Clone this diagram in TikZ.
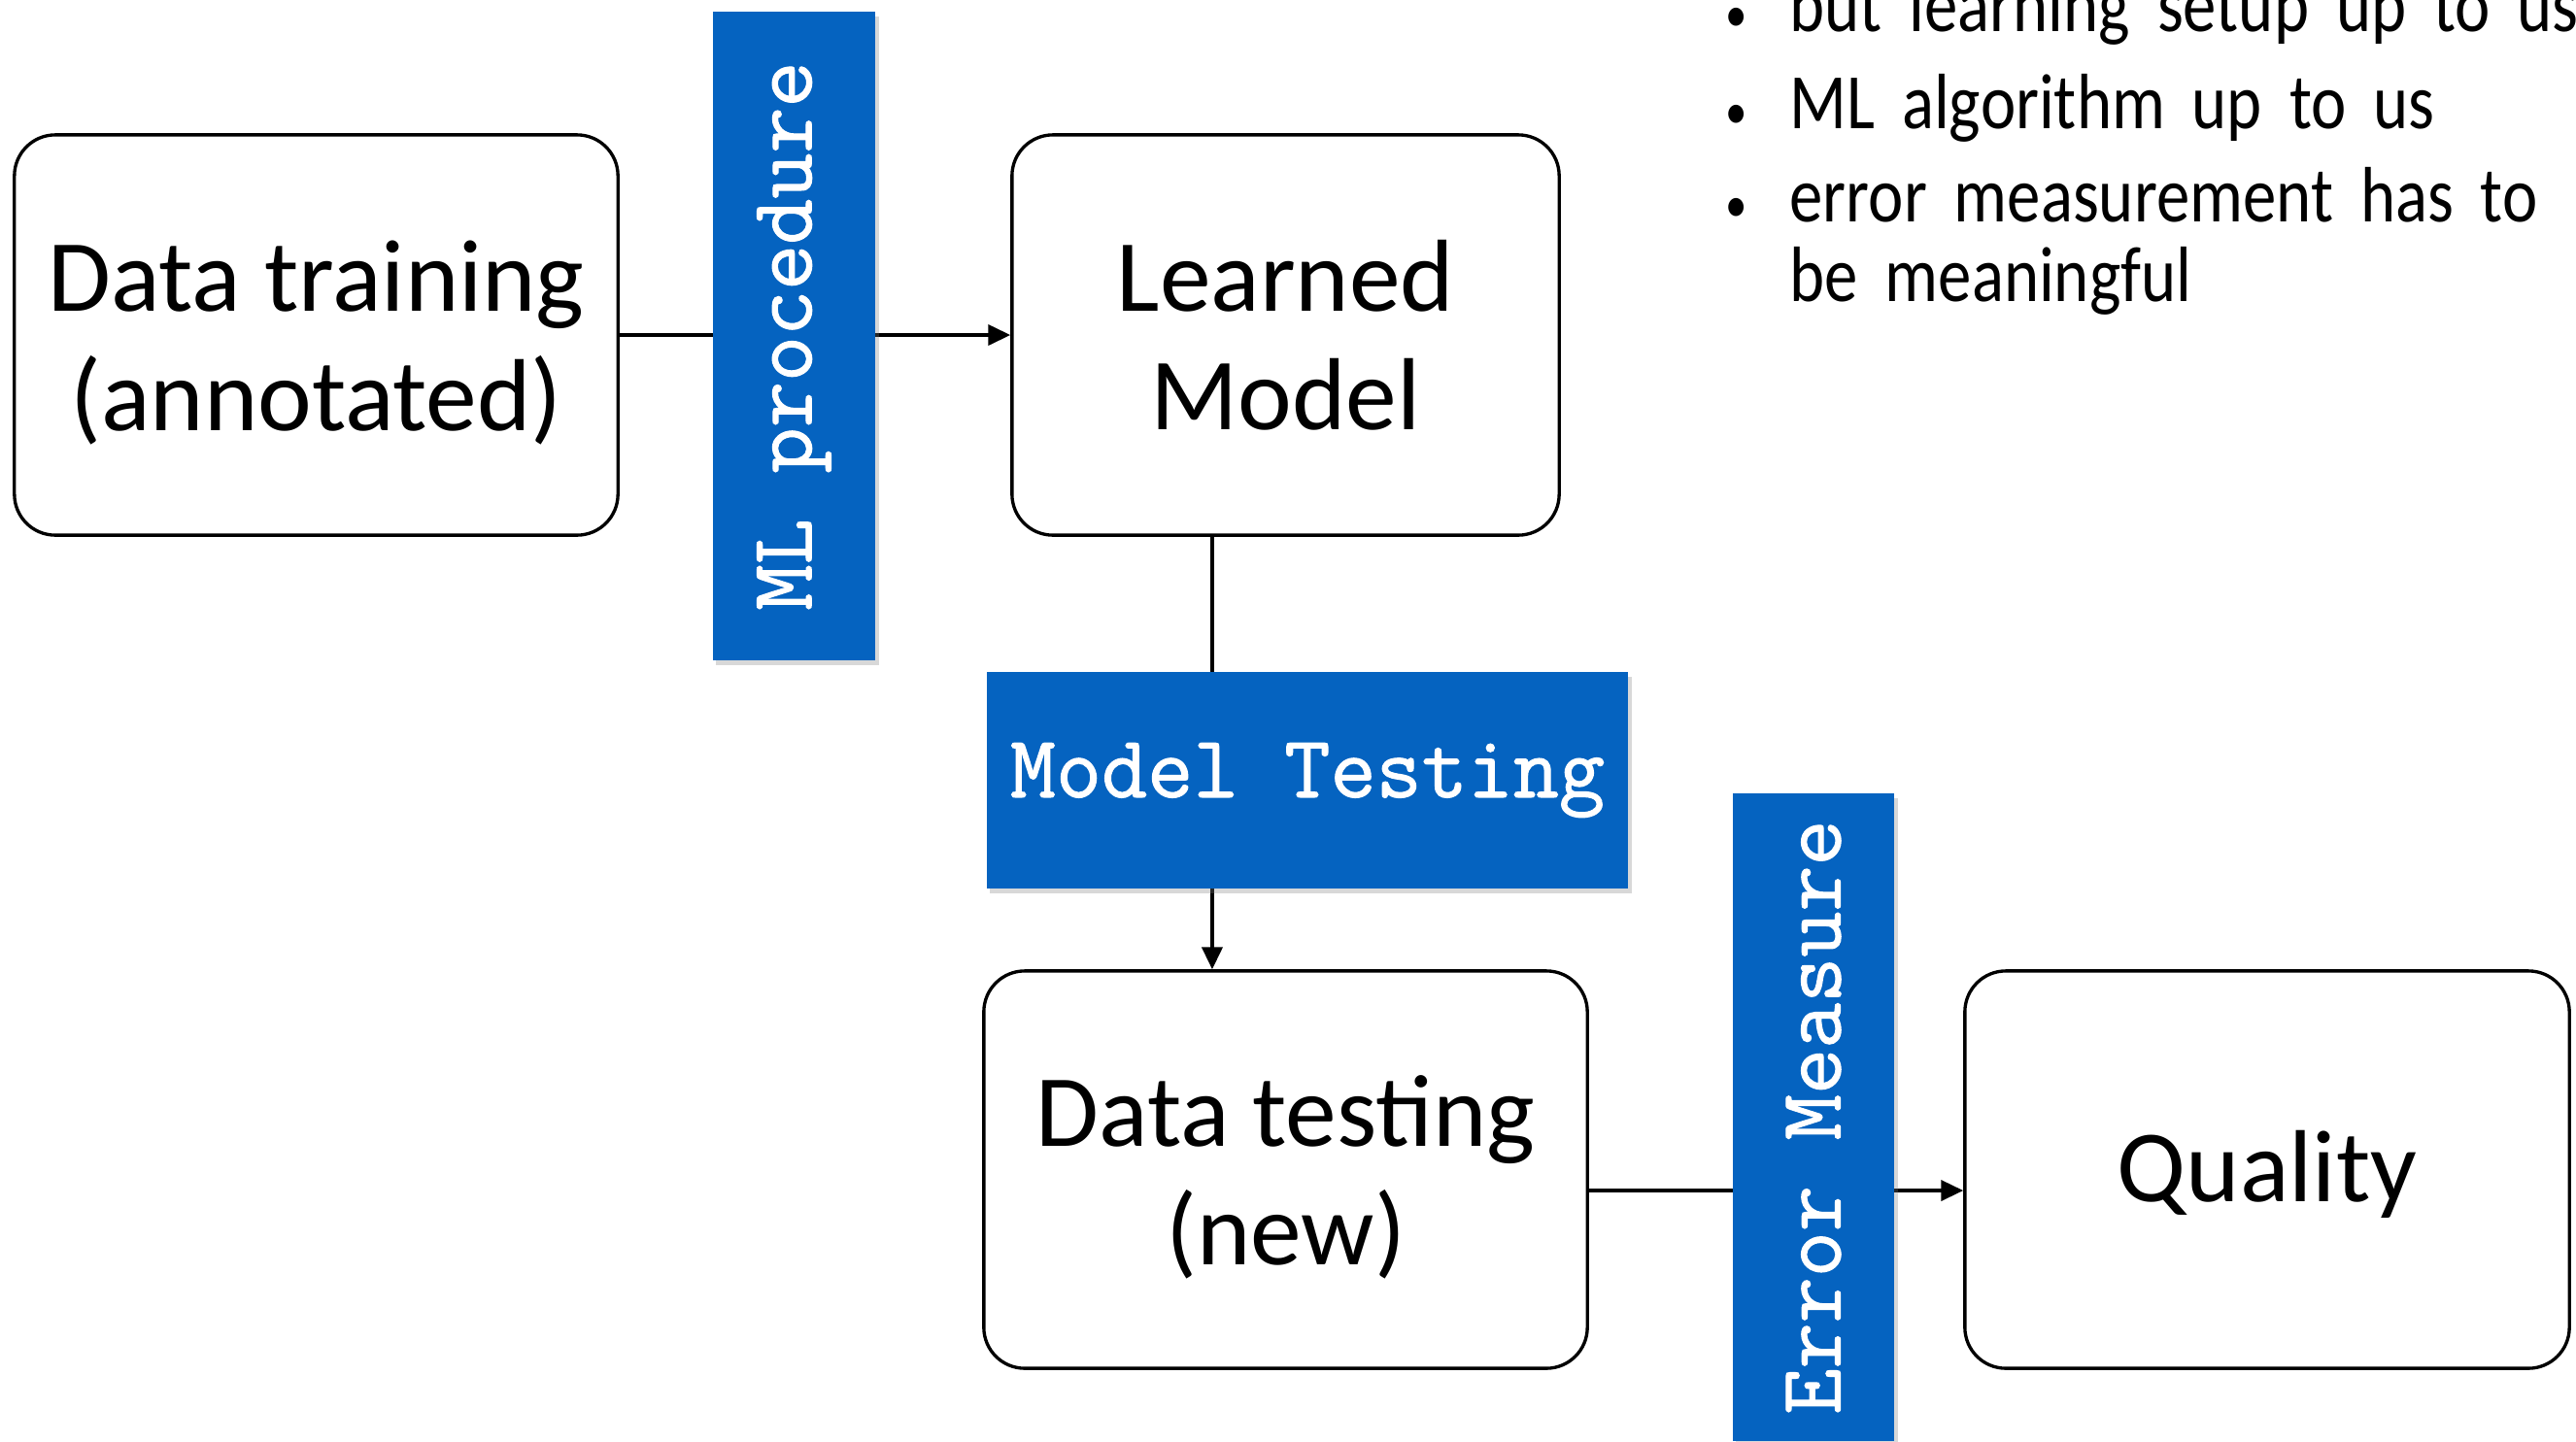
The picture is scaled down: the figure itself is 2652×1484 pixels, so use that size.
\documentclass[tikz,border=0pt]{standalone}
\usepackage{fontspec}
\usetikzlibrary{arrows.meta,shadows}
\setmainfont{Carlito}
\newfontfamily\monofnt[FakeBold=1.2]{Latin Modern Mono}
\newfontfamily\bulfnt[FakeStretch=0.85,WordSpace=1.8]{Carlito}
\definecolor{bluebg}{RGB}{5,99,192}
\begin{document}
\begin{tikzpicture}[x=0.01cm,y=-0.01cm,
  box/.style={draw=black, line width=0.95pt, rounded corners=12pt, fill=white, inner sep=0pt},
  boxtext/.style={align=center, font=\fontsize{30}{34.7}\selectfont, inner sep=0pt},
  bluebox/.style={fill=bluebg, text=white, font=\monofnt\fontsize{26}{30}\selectfont, inner sep=0pt, drop shadow={shadow xshift=1pt, shadow yshift=-1.5pt, opacity=0.3}},
  conn/.style={line width=1pt, -{Triangle[length=6.5pt,width=6pt]}},
  bul/.style={font=\bulfnt\fontsize{23}{23.3}\selectfont, anchor=base west, inner sep=0pt},
  dot/.style={font=\bulfnt\fontsize{15}{16}\selectfont, anchor=base, inner sep=0pt}]
\clip (0,0) rectangle (2652,1484);
\fill[white] (0,0) rectangle (2652,1484);

\node[box, minimum width=6.21cm, minimum height=4.12cm] (dtr) at (325.5,345) {};
\node[boxtext] (dtrt) at ([yshift=-0.08cm]dtr.center) {Data training\\(annotated)};
\node[box, minimum width=5.63cm, minimum height=4.12cm] (lm) at (1323.5,345) {};
\node[boxtext] (lmt) at (lm.center) {Learned\\Model};
\node[box, minimum width=6.21cm, minimum height=4.09cm] (dte) at (1323.5,1204.5) {};
\node[boxtext] (dtet) at ([yshift=-0.08cm]dte.center) {Data testing\\(new)};
\node[box, minimum width=6.22cm, minimum height=4.09cm] (q) at (2334,1204.5) {};
\node[boxtext] (qt) at ([yshift=-0.05cm]q.center) {Quality};

\draw[conn] (dtr.east) -- (lm.west);
\draw[conn] ([xshift=-0.755cm]lm.south) -- ([xshift=-0.755cm]dte.north);
\draw[conn] ([yshift=-0.215cm]dte.east) -- ([yshift=-0.215cm]q.west);

\node[bluebox, rotate=90, minimum width=6.68cm, minimum height=1.67cm] (mlp) at (817.5,346) {ML procedure};
\node[bluebox, minimum width=6.60cm, minimum height=2.23cm] (mt) at (1346,803.5) {Model Testing};
\node[bluebox, rotate=90, minimum width=6.67cm, minimum height=1.66cm] (em) at (1867,1150.5) {Error Measure};

\node[dot] (d1) at (1788,32) {•};
\node[dot] (d2) at (1788,132) {•};
\node[dot] (d3) at (1788,228) {•};
\node[bul] (b1) at (1842,32) {but learning setup up to us};
\node[bul] (b2) at (1842,132) {ML algorithm up to us};
\node[bul] (b3) at (1842,228) {error measurement has to};
\node[bul] (b4) at (1842,310) {be meaningful};
\end{tikzpicture}
\end{document}
